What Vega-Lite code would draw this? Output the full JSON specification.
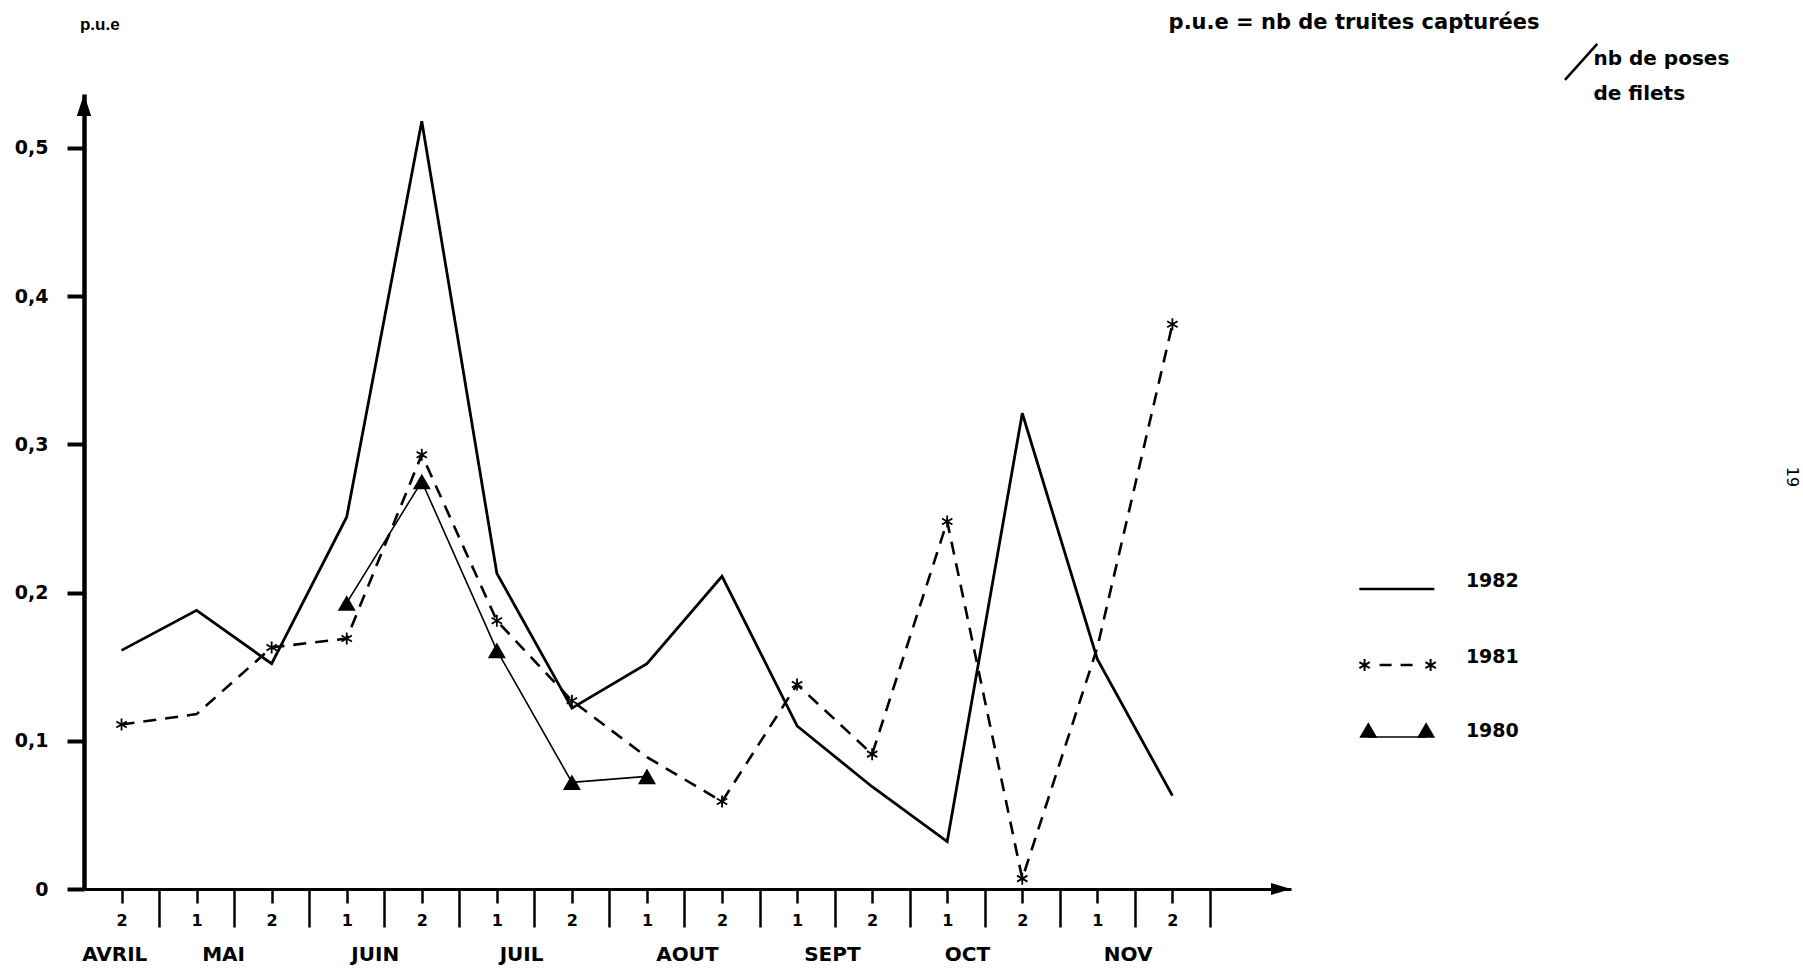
{
  "$schema": "https://vega.github.io/schema/vega-lite/v6.json",
  "autosize": {"type": "none"},
  "width": 1207,
  "height": 795,
  "padding": {"left": 84, "top": 94, "right": 512, "bottom": 81},
  "background": "white",
  "config": {
    "view": {"stroke": null},
    "axis": {"grid": false, "domainColor": "black", "tickColor": "black", "labelColor": "black"},
    "text": {"font": "DejaVu Sans", "fontWeight": "bold", "color": "black"}
  },
  "datasets": {
    "pue": [
      {"year": "1982", "month": "AVRIL", "quinzaine": 2, "q": 0, "pue": 0.161},
      {"year": "1982", "month": "MAI", "quinzaine": 1, "q": 1, "pue": 0.188},
      {"year": "1982", "month": "MAI", "quinzaine": 2, "q": 2, "pue": 0.152},
      {"year": "1982", "month": "JUIN", "quinzaine": 1, "q": 3, "pue": 0.251},
      {"year": "1982", "month": "JUIN", "quinzaine": 2, "q": 4, "pue": 0.518},
      {"year": "1982", "month": "JUIL", "quinzaine": 1, "q": 5, "pue": 0.213},
      {"year": "1982", "month": "JUIL", "quinzaine": 2, "q": 6, "pue": 0.122},
      {"year": "1982", "month": "AOUT", "quinzaine": 1, "q": 7, "pue": 0.152},
      {"year": "1982", "month": "AOUT", "quinzaine": 2, "q": 8, "pue": 0.211},
      {"year": "1982", "month": "SEPT", "quinzaine": 1, "q": 9, "pue": 0.110},
      {"year": "1982", "month": "SEPT", "quinzaine": 2, "q": 10, "pue": 0.069},
      {"year": "1982", "month": "OCT", "quinzaine": 1, "q": 11, "pue": 0.032},
      {"year": "1982", "month": "OCT", "quinzaine": 2, "q": 12, "pue": 0.321},
      {"year": "1982", "month": "NOV", "quinzaine": 1, "q": 13, "pue": 0.155},
      {"year": "1982", "month": "NOV", "quinzaine": 2, "q": 14, "pue": 0.063},
      {"year": "1981", "month": "AVRIL", "quinzaine": 2, "q": 0, "pue": 0.111},
      {"year": "1981", "month": "MAI", "quinzaine": 1, "q": 1, "pue": 0.118},
      {"year": "1981", "month": "MAI", "quinzaine": 2, "q": 2, "pue": 0.163},
      {"year": "1981", "month": "JUIN", "quinzaine": 1, "q": 3, "pue": 0.169},
      {"year": "1981", "month": "JUIN", "quinzaine": 2, "q": 4, "pue": 0.293},
      {"year": "1981", "month": "JUIL", "quinzaine": 1, "q": 5, "pue": 0.181},
      {"year": "1981", "month": "JUIL", "quinzaine": 2, "q": 6, "pue": 0.127},
      {"year": "1981", "month": "AOUT", "quinzaine": 1, "q": 7, "pue": 0.089},
      {"year": "1981", "month": "AOUT", "quinzaine": 2, "q": 8, "pue": 0.059},
      {"year": "1981", "month": "SEPT", "quinzaine": 1, "q": 9, "pue": 0.138},
      {"year": "1981", "month": "SEPT", "quinzaine": 2, "q": 10, "pue": 0.091},
      {"year": "1981", "month": "OCT", "quinzaine": 1, "q": 11, "pue": 0.248},
      {"year": "1981", "month": "OCT", "quinzaine": 2, "q": 12, "pue": 0.007},
      {"year": "1981", "month": "NOV", "quinzaine": 1, "q": 13, "pue": 0.163},
      {"year": "1981", "month": "NOV", "quinzaine": 2, "q": 14, "pue": 0.381},
      {"year": "1980", "month": "JUIN", "quinzaine": 1, "q": 3, "pue": 0.193},
      {"year": "1980", "month": "JUIN", "quinzaine": 2, "q": 4, "pue": 0.275},
      {"year": "1980", "month": "JUIL", "quinzaine": 1, "q": 5, "pue": 0.161},
      {"year": "1980", "month": "JUIL", "quinzaine": 2, "q": 6, "pue": 0.072},
      {"year": "1980", "month": "AOUT", "quinzaine": 1, "q": 7, "pue": 0.076}
    ],
    "months": [
      {"month": "AVRIL", "pos": -0.09},
      {"month": "MAI", "pos": 1.36},
      {"month": "JUIN", "pos": 3.38},
      {"month": "JUIL", "pos": 5.33},
      {"month": "AOUT", "pos": 7.54},
      {"month": "SEPT", "pos": 9.47},
      {"month": "OCT", "pos": 11.27},
      {"month": "NOV", "pos": 13.41}
    ]
  },
  "layer": [
    {
      "data": {"name": "pue"},
      "transform": [{"filter": "datum.year == '1982'"}],
      "mark": {"type": "line", "color": "black", "strokeWidth": 2.8},
      "encoding": {
        "x": {
          "field": "q", "type": "quantitative", "title": null,
          "scale": {"domain": [-0.5, 15.58], "nice": false, "zero": false},
          "axis": {
            "title": null,
            "values": [0, 0.5, 1, 1.5, 2, 2.5, 3, 3.5, 4, 4.5, 5, 5.5, 6, 6.5, 7, 7.5, 8, 8.5, 9, 9.5, 10, 10.5, 11, 11.5, 12, 12.5, 13, 13.5, 14, 14.5],
            "labelExpr": "datum.value % 1 != 0 ? '' : (datum.value % 2 == 0 ? '2' : '1')",
            "tickSize": {"condition": {"test": "datum.value % 1 != 0", "value": 38}, "value": 14},
            "tickWidth": 2.5,
            "domainWidth": 3,
            "labelFont": "DejaVu Sans", "labelFontWeight": "bold", "labelFontSize": 16,
            "labelPadding": 9, "labelOverlap": false, "labelFlush": false, "labelBound": false
          }
        },
        "y": {
          "field": "pue", "type": "quantitative", "title": null,
          "scale": {"domain": [0, 0.5364], "nice": false, "zero": true},
          "axis": {
            "title": null,
            "values": [0, 0.1, 0.2, 0.3, 0.4, 0.5],
            "labelExpr": "datum.value == 0 ? '0' : replace(format(datum.value, '.1f'), '.', ',')",
            "tickSize": 17, "tickWidth": 4, "domainWidth": 4.5,
            "labelFont": "DejaVu Sans", "labelFontWeight": "bold", "labelFontSize": 19,
            "labelPadding": 19, "labelOverlap": false, "labelFlush": false
          }
        }
      }
    },
    {
      "data": {"name": "pue"},
      "transform": [{"filter": "datum.year == '1981'"}],
      "mark": {"type": "line", "color": "black", "strokeWidth": 2.6, "strokeDash": [13, 9]},
      "encoding": {
        "x": {"field": "q", "type": "quantitative"},
        "y": {"field": "pue", "type": "quantitative"}
      }
    },
    {
      "data": {"name": "pue"},
      "transform": [{"filter": "datum.year == '1981' && indexof([1, 7, 13], datum.q) < 0"}],
      "mark": {"type": "point", "shape": "M0,-1L0,1M-0.866,-0.5L0.866,0.5M-0.866,0.5L0.866,-0.5", "size": 144, "filled": false, "stroke": "black", "strokeWidth": 1.8, "opacity": 1},
      "encoding": {
        "x": {"field": "q", "type": "quantitative"},
        "y": {"field": "pue", "type": "quantitative"}
      }
    },
    {
      "data": {"name": "pue"},
      "transform": [{"filter": "datum.year == '1980'"}],
      "mark": {"type": "line", "color": "black", "strokeWidth": 1.6},
      "encoding": {
        "x": {"field": "q", "type": "quantitative"},
        "y": {"field": "pue", "type": "quantitative"}
      }
    },
    {
      "data": {"name": "pue"},
      "transform": [{"filter": "datum.year == '1980'"}],
      "mark": {"type": "point", "shape": "triangle-up", "size": 324, "filled": true, "fill": "black", "stroke": null, "opacity": 1},
      "encoding": {
        "x": {"field": "q", "type": "quantitative"},
        "y": {"field": "pue", "type": "quantitative"}
      }
    },
    {
      "data": {"name": "months"},
      "mark": {"type": "text", "fontSize": 20, "baseline": "middle", "align": "center", "dy": 66},
      "encoding": {
        "x": {"field": "pos", "type": "quantitative"},
        "y": {"datum": 0, "type": "quantitative"},
        "text": {"field": "month"}
      }
    },
    {
      "data": {"values": [{}]},
      "mark": {"type": "point", "shape": "M0,0L-0.65,2L0.65,2Z", "size": 484, "filled": true, "fill": "black", "stroke": null, "opacity": 1},
      "encoding": {
        "x": {"datum": -0.5, "type": "quantitative"},
        "y": {"datum": 0.5364, "type": "quantitative"}
      }
    },
    {
      "data": {"values": [{}]},
      "mark": {"type": "point", "shape": "M0,0L-2,-0.6L-2,0.6Z", "size": 400, "filled": true, "fill": "black", "stroke": null, "opacity": 1},
      "encoding": {
        "x": {"datum": 15.58, "type": "quantitative"},
        "y": {"datum": 0, "type": "quantitative"}
      }
    },
    {
      "data": {"values": [{}]},
      "mark": {"type": "text", "text": "p.u.e", "font": "Liberation Sans", "fontSize": 17, "baseline": "middle", "align": "center"},
      "encoding": {
        "x": {"datum": -0.29, "type": "quantitative"},
        "y": {"datum": 0.583, "type": "quantitative"}
      }
    },
    {
      "data": {"values": [{}]},
      "mark": {"type": "text", "text": "p.u.e = nb de truites capturées", "fontSize": 21, "baseline": "middle", "align": "center"},
      "encoding": {
        "x": {"datum": 16.42, "type": "quantitative"},
        "y": {"datum": 0.5843, "type": "quantitative"}
      }
    },
    {
      "data": {"values": [{}]},
      "mark": {"type": "rule", "color": "black", "strokeWidth": 2.5},
      "encoding": {
        "x": {"datum": 19.23, "type": "quantitative"},
        "y": {"datum": 0.5459, "type": "quantitative"},
        "x2": {"datum": 19.66},
        "y2": {"datum": 0.5702}
      }
    },
    {
      "data": {"values": [{}]},
      "mark": {"type": "text", "text": "nb de poses", "fontSize": 20, "baseline": "middle", "align": "left"},
      "encoding": {
        "x": {"datum": 19.61, "type": "quantitative"},
        "y": {"datum": 0.5601, "type": "quantitative"}
      }
    },
    {
      "data": {"values": [{}]},
      "mark": {"type": "text", "text": "de filets", "fontSize": 20, "baseline": "middle", "align": "left"},
      "encoding": {
        "x": {"datum": 19.61, "type": "quantitative"},
        "y": {"datum": 0.5364, "type": "quantitative"}
      }
    },
    {
      "data": {"values": [{}]},
      "mark": {"type": "text", "text": "19", "fontSize": 16, "fontWeight": "normal", "baseline": "middle", "align": "center", "angle": 90},
      "encoding": {
        "x": {"datum": 22.25, "type": "quantitative"},
        "y": {"datum": 0.278, "type": "quantitative"}
      }
    },
    {
      "data": {"values": [{}]},
      "mark": {"type": "rule", "color": "black", "strokeWidth": 2.5},
      "encoding": {
        "x": {"datum": 16.49, "type": "quantitative"},
        "x2": {"datum": 17.49},
        "y": {"datum": 0.2024, "type": "quantitative"}
      }
    },
    {
      "data": {"values": [{}]},
      "mark": {"type": "text", "text": "1982", "fontSize": 19, "baseline": "middle", "align": "left"},
      "encoding": {
        "x": {"datum": 17.91, "type": "quantitative"},
        "y": {"datum": 0.2078, "type": "quantitative"}
      }
    },
    {
      "data": {"values": [{}]},
      "mark": {"type": "rule", "color": "black", "strokeWidth": 2.5, "strokeDash": [12, 9]},
      "encoding": {
        "x": {"datum": 16.76, "type": "quantitative"},
        "x2": {"datum": 17.25},
        "y": {"datum": 0.1511, "type": "quantitative"}
      }
    },
    {
      "data": {"values": [{}]},
      "mark": {"type": "point", "shape": "M0,-1L0,1M-0.866,-0.5L0.866,0.5M-0.866,0.5L0.866,-0.5", "size": 144, "filled": false, "stroke": "black", "strokeWidth": 2, "opacity": 1},
      "encoding": {
        "x": {"datum": 16.56, "type": "quantitative"},
        "y": {"datum": 0.1511, "type": "quantitative"}
      }
    },
    {
      "data": {"values": [{}]},
      "mark": {"type": "point", "shape": "M0,-1L0,1M-0.866,-0.5L0.866,0.5M-0.866,0.5L0.866,-0.5", "size": 144, "filled": false, "stroke": "black", "strokeWidth": 2, "opacity": 1},
      "encoding": {
        "x": {"datum": 17.44, "type": "quantitative"},
        "y": {"datum": 0.1511, "type": "quantitative"}
      }
    },
    {
      "data": {"values": [{}]},
      "mark": {"type": "text", "text": "1981", "fontSize": 19, "baseline": "middle", "align": "left"},
      "encoding": {
        "x": {"datum": 17.91, "type": "quantitative"},
        "y": {"datum": 0.1565, "type": "quantitative"}
      }
    },
    {
      "data": {"values": [{}]},
      "mark": {"type": "rule", "color": "black", "strokeWidth": 1.6},
      "encoding": {
        "x": {"datum": 16.61, "type": "quantitative"},
        "x2": {"datum": 17.38},
        "y": {"datum": 0.1026, "type": "quantitative"}
      }
    },
    {
      "data": {"values": [{}]},
      "mark": {"type": "point", "shape": "triangle-up", "size": 324, "filled": true, "fill": "black", "stroke": null, "opacity": 1},
      "encoding": {
        "x": {"datum": 16.61, "type": "quantitative"},
        "y": {"datum": 0.1073, "type": "quantitative"}
      }
    },
    {
      "data": {"values": [{}]},
      "mark": {"type": "point", "shape": "triangle-up", "size": 324, "filled": true, "fill": "black", "stroke": null, "opacity": 1},
      "encoding": {
        "x": {"datum": 17.38, "type": "quantitative"},
        "y": {"datum": 0.1073, "type": "quantitative"}
      }
    },
    {
      "data": {"values": [{}]},
      "mark": {"type": "text", "text": "1980", "fontSize": 19, "baseline": "middle", "align": "left"},
      "encoding": {
        "x": {"datum": 17.91, "type": "quantitative"},
        "y": {"datum": 0.1066, "type": "quantitative"}
      }
    }
  ]
}
